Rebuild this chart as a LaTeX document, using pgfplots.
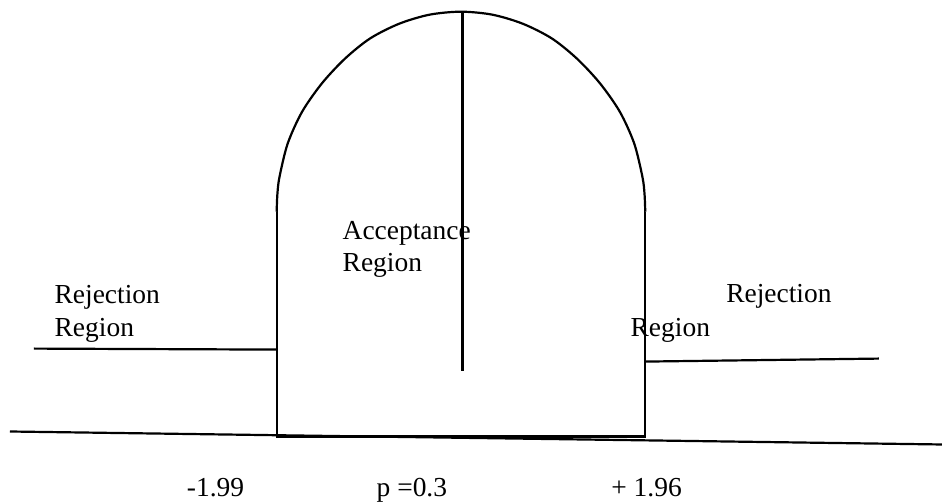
\documentclass[border=0pt]{standalone}
\usepackage{fontspec}
\setmainfont{Liberation Serif}
\usepackage{pgfplots}
\pgfplotsset{compat=1.18}

% outline of the acceptance arch, pixel coordinates
\pgfplotstableread{
x y
277 212
277.7 194.5
279.8 177.2
288.1 143.5
302.5 111.8
322.5 83.2
345.5 58.6
370.5 38.5
399.5 23.8
430 14.7
461.5 11.7
493 14.7
523.5 23.8
552.5 38.5
577.5 58.6
600.5 83.2
620.5 111.8
634.9 143.5
643.2 177.2
645.3 194.5
646 212
}\archtop

\begin{document}
\begin{tikzpicture}
\begin{axis}[
  width=471.5pt, height=252pt, scale only axis,
  xmin=0, xmax=943, ymin=0, ymax=504, y dir=reverse,
  hide axis, clip=false,
  cycle list={{black, solid, no marks}},
  every axis plot/.append style={line width=1.1pt},
]
% keep the whole canvas in the picture
\path (rel axis cs:0,0) rectangle (rel axis cs:1,1);
% arch walls and floor
\addplot+[sharp plot] coordinates {(277,212) (277,437) (646,437) (646,212)};
\addplot+[smooth] table {\archtop};
% centre line
\addplot+[] coordinates {(463,12) (463,371)};
% rejection lines
\addplot+[] coordinates {(34,349) (277,350)};
\addplot+[] coordinates {(646,362) (880,359)};
% ground line
\addplot+[] coordinates {(10,432) (943,445)};

\begin{scope}[every node/.style={anchor=base west, inner sep=0pt, font=\fontsize{13.75}{16}\selectfont}]
\node at (axis cs:342.7,240) {Acceptance};
\node at (axis cs:342.7,271.7) {Region};
\node at (axis cs:54.3,304) {Rejection};
\node at (axis cs:54.3,336.7) {Region};
\node at (axis cs:726.7,303.3) {Rejection};
\node at (axis cs:631,336.7) {Region};
\node at (axis cs:186.7,497) {-1.99};
\node at (axis cs:376.7,497) {p =0.3};
\node at (axis cs:611.7,497) {+ 1.96};
\end{scope}
\end{axis}
\end{tikzpicture}
\end{document}
